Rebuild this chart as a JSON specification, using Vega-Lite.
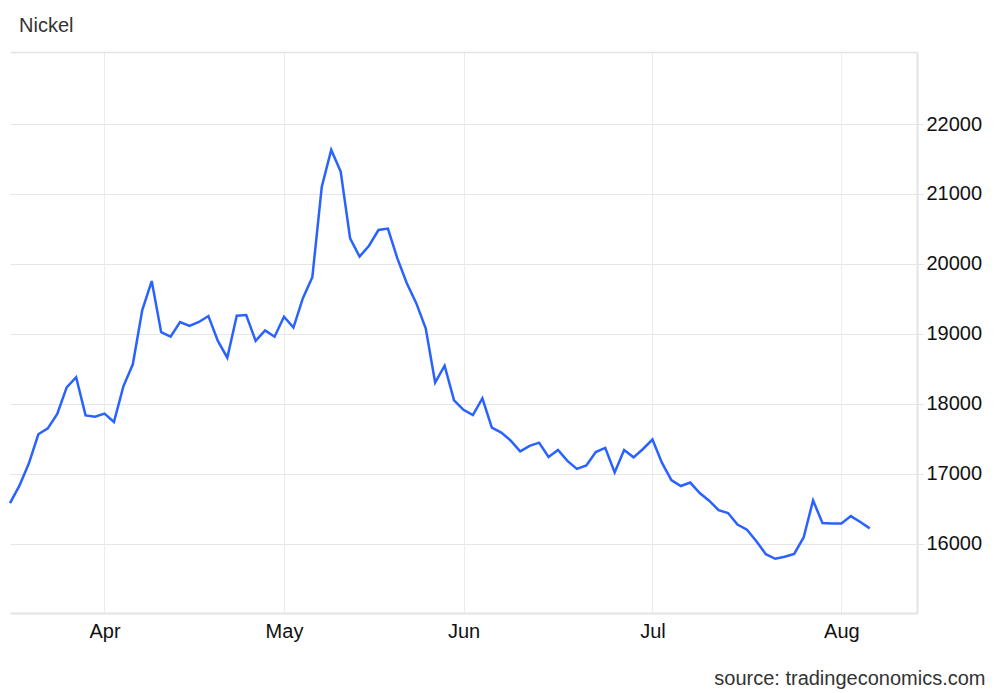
{
  "$schema": "https://vega.github.io/schema/vega-lite/v6.json",
  "width": 907,
  "height": 561,
  "autosize": {"type": "none"},
  "padding": {"left": 10, "top": 52, "right": 83, "bottom": 80},
  "background": "white",
  "title": {"text": "Nickel", "anchor": "start", "frame": "group", "dx": 9, "offset": 16, "fontSize": 20, "font": "Liberation Sans", "fontWeight": "normal", "color": "#333333"},
  "config": {"view": {"stroke": null}},
  "data": {"values": [
    {"date": "2024-03-15", "value": 16580},
    {"date": "2024-03-18", "value": 16830},
    {"date": "2024-03-19", "value": 17150},
    {"date": "2024-03-20", "value": 17565},
    {"date": "2024-03-21", "value": 17650},
    {"date": "2024-03-22", "value": 17855},
    {"date": "2024-03-25", "value": 18235},
    {"date": "2024-03-26", "value": 18380},
    {"date": "2024-03-27", "value": 17835},
    {"date": "2024-03-28", "value": 17815},
    {"date": "2024-04-02", "value": 17860},
    {"date": "2024-04-03", "value": 17740},
    {"date": "2024-04-04", "value": 18250},
    {"date": "2024-04-08", "value": 18565},
    {"date": "2024-04-09", "value": 19340},
    {"date": "2024-04-10", "value": 19755},
    {"date": "2024-04-11", "value": 19025},
    {"date": "2024-04-12", "value": 18960},
    {"date": "2024-04-15", "value": 19170},
    {"date": "2024-04-16", "value": 19115},
    {"date": "2024-04-17", "value": 19170},
    {"date": "2024-04-18", "value": 19255},
    {"date": "2024-04-22", "value": 18900},
    {"date": "2024-04-23", "value": 18660},
    {"date": "2024-04-24", "value": 19260},
    {"date": "2024-04-25", "value": 19270},
    {"date": "2024-04-26", "value": 18900},
    {"date": "2024-04-29", "value": 19050},
    {"date": "2024-04-30", "value": 18960},
    {"date": "2024-05-01", "value": 19245},
    {"date": "2024-05-02", "value": 19090},
    {"date": "2024-05-03", "value": 19510},
    {"date": "2024-05-07", "value": 19810},
    {"date": "2024-05-08", "value": 21105},
    {"date": "2024-05-09", "value": 21630},
    {"date": "2024-05-13", "value": 21320},
    {"date": "2024-05-14", "value": 20365},
    {"date": "2024-05-15", "value": 20105},
    {"date": "2024-05-16", "value": 20260},
    {"date": "2024-05-17", "value": 20485},
    {"date": "2024-05-20", "value": 20505},
    {"date": "2024-05-21", "value": 20080},
    {"date": "2024-05-22", "value": 19725},
    {"date": "2024-05-23", "value": 19440},
    {"date": "2024-05-28", "value": 19080},
    {"date": "2024-05-29", "value": 18305},
    {"date": "2024-05-30", "value": 18545},
    {"date": "2024-05-31", "value": 18050},
    {"date": "2024-06-03", "value": 17915},
    {"date": "2024-06-04", "value": 17840},
    {"date": "2024-06-05", "value": 18080},
    {"date": "2024-06-06", "value": 17660},
    {"date": "2024-06-07", "value": 17590},
    {"date": "2024-06-10", "value": 17475},
    {"date": "2024-06-11", "value": 17320},
    {"date": "2024-06-12", "value": 17400},
    {"date": "2024-06-13", "value": 17445},
    {"date": "2024-06-14", "value": 17240},
    {"date": "2024-06-17", "value": 17340},
    {"date": "2024-06-18", "value": 17185},
    {"date": "2024-06-19", "value": 17070},
    {"date": "2024-06-20", "value": 17120},
    {"date": "2024-06-21", "value": 17310},
    {"date": "2024-06-24", "value": 17370},
    {"date": "2024-06-25", "value": 17020},
    {"date": "2024-06-26", "value": 17340},
    {"date": "2024-06-27", "value": 17235},
    {"date": "2024-06-28", "value": 17355},
    {"date": "2024-07-01", "value": 17490},
    {"date": "2024-07-02", "value": 17160},
    {"date": "2024-07-03", "value": 16910},
    {"date": "2024-07-05", "value": 16825},
    {"date": "2024-07-08", "value": 16875},
    {"date": "2024-07-09", "value": 16725},
    {"date": "2024-07-10", "value": 16615},
    {"date": "2024-07-11", "value": 16480},
    {"date": "2024-07-15", "value": 16440},
    {"date": "2024-07-16", "value": 16275},
    {"date": "2024-07-17", "value": 16200},
    {"date": "2024-07-18", "value": 16035},
    {"date": "2024-07-19", "value": 15850},
    {"date": "2024-07-22", "value": 15785},
    {"date": "2024-07-23", "value": 15815},
    {"date": "2024-07-24", "value": 15855},
    {"date": "2024-07-25", "value": 16090},
    {"date": "2024-07-29", "value": 16620},
    {"date": "2024-07-30", "value": 16295},
    {"date": "2024-07-31", "value": 16290},
    {"date": "2024-08-01", "value": 16290},
    {"date": "2024-08-02", "value": 16395},
    {"date": "2024-08-05", "value": 16310},
    {"date": "2024-08-06", "value": 16220}
  ]},
  "resolve": {"axis": {"x": "independent"}},
  "layer": [
    {
      "mark": {"type": "line", "color": "#2962ff", "strokeWidth": 2.5, "strokeJoin": "miter"},
      "encoding": {
        "x": {
          "field": "date", "type": "ordinal",
          "scale": {"type": "point", "padding": 0, "domain": ["2024-03-15","2024-03-18","2024-03-19","2024-03-20","2024-03-21","2024-03-22","2024-03-25","2024-03-26","2024-03-27","2024-03-28","2024-04-02","2024-04-03","2024-04-04","2024-04-08","2024-04-09","2024-04-10","2024-04-11","2024-04-12","2024-04-15","2024-04-16","2024-04-17","2024-04-18","2024-04-22","2024-04-23","2024-04-24","2024-04-25","2024-04-26","2024-04-29","2024-04-30","2024-05-01","2024-05-02","2024-05-03","2024-05-07","2024-05-08","2024-05-09","2024-05-13","2024-05-14","2024-05-15","2024-05-16","2024-05-17","2024-05-20","2024-05-21","2024-05-22","2024-05-23","2024-05-28","2024-05-29","2024-05-30","2024-05-31","2024-06-03","2024-06-04","2024-06-05","2024-06-06","2024-06-07","2024-06-10","2024-06-11","2024-06-12","2024-06-13","2024-06-14","2024-06-17","2024-06-18","2024-06-19","2024-06-20","2024-06-21","2024-06-24","2024-06-25","2024-06-26","2024-06-27","2024-06-28","2024-07-01","2024-07-02","2024-07-03","2024-07-05","2024-07-08","2024-07-09","2024-07-10","2024-07-11","2024-07-15","2024-07-16","2024-07-17","2024-07-18","2024-07-19","2024-07-22","2024-07-23","2024-07-24","2024-07-25","2024-07-29","2024-07-30","2024-07-31","2024-08-01","2024-08-02","2024-08-05","2024-08-06","2024-08-07","2024-08-08","2024-08-09","2024-08-12","2024-08-13"]},
          "axis": {
            "orient": "bottom",
            "values": ["2024-04-02", "2024-05-01", "2024-06-03", "2024-07-01", "2024-08-01"],
            "labelExpr": "utcFormat(toDate(datum.value), '%b')",
            "labelAngle": 0,
            "labelFont": "Liberation Sans",
            "labelFontSize": 20,
            "labelColor": "#111111",
            "labelPadding": 8,
            "ticks": false,
            "grid": true,
            "gridColor": "#e9ecf1",
            "gridWidth": 1,
            "domain": true,
            "domainColor": "#e3e3e3",
            "domainWidth": 2,
            "title": "source: tradingeconomics.com",
            "titleFont": "Liberation Sans",
            "titleFontSize": 20,
            "titleFontWeight": "normal",
            "titleColor": "#333333",
            "titleAnchor": "end",
            "titleAlign": "right",
            "titleBaseline": "alphabetic",
            "titleX": 975,
            "titleY": 71
          }
        },
        "y": {
          "field": "value", "type": "quantitative",
          "scale": {"domain": [15010, 23030], "nice": false, "zero": false},
          "axis": {
            "orient": "right",
            "values": [16000, 17000, 18000, 19000, 20000, 21000, 22000],
            "format": "d",
            "labelFont": "Liberation Sans",
            "labelFontSize": 20,
            "labelColor": "#111111",
            "labelPadding": 3,
            "ticks": true,
            "tickSize": 6,
            "tickColor": "#e3e3e3",
            "grid": true,
            "gridColor": "#e6e6e6",
            "gridWidth": 1,
            "domain": true,
            "domainColor": "#e3e3e3",
            "domainWidth": 2,
            "title": null
          }
        }
      }
    },
    {
      "mark": {"type": "line", "opacity": 0},
      "encoding": {
        "x": {
          "field": "date", "type": "ordinal",
          "axis": {"orient": "top", "labels": false, "ticks": false, "grid": false, "domain": true, "domainColor": "#e3e3e3", "domainWidth": 1.5, "title": null}
        },
        "y": {"field": "value", "type": "quantitative"}
      }
    }
  ]
}
